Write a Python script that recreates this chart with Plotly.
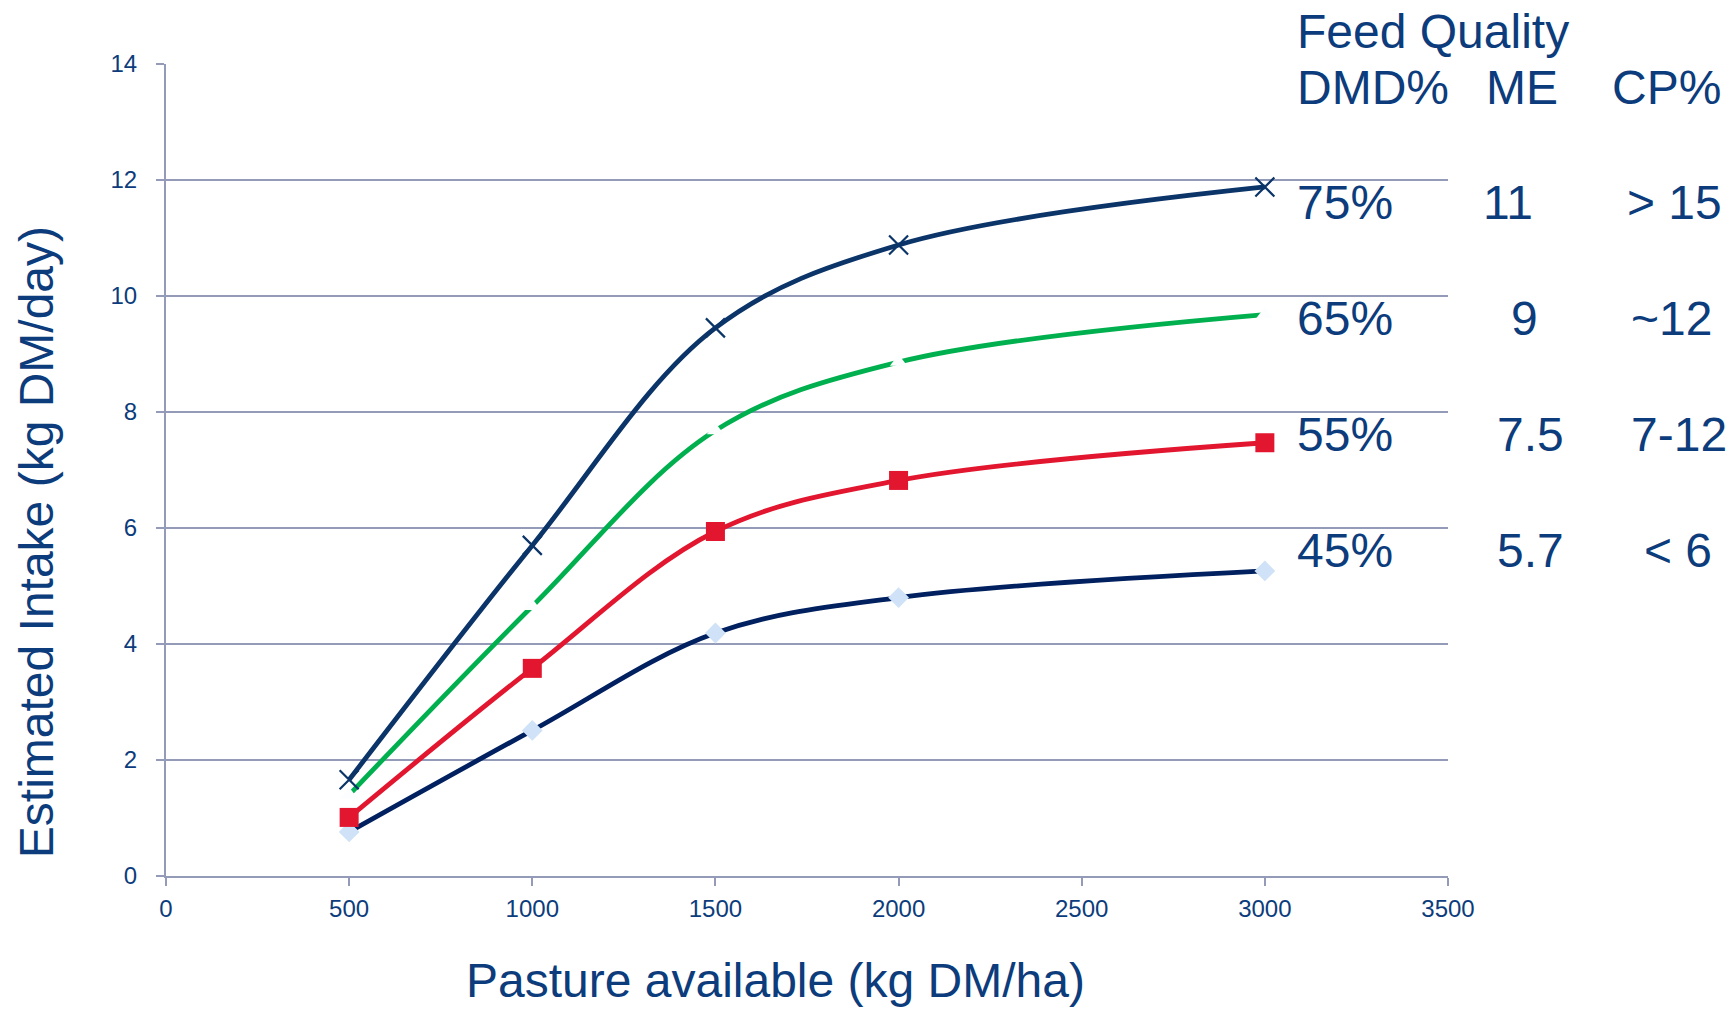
import plotly.graph_objects as go

pasture = [500, 1000, 1500, 2000, 3000]
intake_75 = [1.66, 5.70, 9.45, 10.88, 11.88]
intake_65 = [1.40, 4.65, 7.68, 8.86, 9.68]
intake_55 = [1.01, 3.58, 5.94, 6.82, 7.47]
intake_45 = [0.76, 2.51, 4.19, 4.80, 5.26]

dmd = ["75%", "65%", "55%", "45%"]
me = ["11", "9", "7.5", "5.7"]
cp = ["> 15", "~12", "7-12", "< 6"]
row_y = [11.62, 9.62, 7.62, 5.62]

TXT = "#0c3c7c"
GRID = "#939bb9"
FONT = "Liberation Sans, Arial, sans-serif"

W, H = 1733, 1009
ML, MR, MT, MB = 166, 285, 64, 132.5
PW = W - ML - MR
PH = H - MT - MB


def px(xpix):
    return (xpix - ML) / PW


def py(ypix):
    return (H - MB - ypix) / PH


fig = go.Figure()

series = [
    (intake_45, "#00205f", dict(symbol="diamond", size=16, color="#cfe2f7")),
    (intake_55, "#e2162f", dict(symbol="square", size=19, color="#e2162f")),
    (intake_65, "#00b04f", dict(symbol="triangle-up", size=15, color="#fbfdff")),
    (intake_75, "#0b3469", dict(symbol="x-thin", size=19, color="#0b3469",
                                line=dict(width=2.2, color="#0b3469"))),
]
for ys, col, mk in series:
    fig.add_trace(go.Scatter(
        x=pasture, y=ys, mode="lines+markers",
        line=dict(color=col, width=4.8, shape="spline", smoothing=1.0),
        marker=mk, showlegend=False, cliponaxis=False))

ann = []
ann.append(dict(x=px(1295), y=py(31), text="Feed Quality", xanchor="left"))
ann.append(dict(x=px(1295), y=py(88), text="DMD%", xanchor="left"))
ann.append(dict(x=px(1522), y=py(88), text="ME", xanchor="center"))
ann.append(dict(x=px(1666), y=py(88), text="CP%", xanchor="center"))
me_x = [1508, 1524, 1530, 1530]
cp_x = [1674, 1672, 1679, 1678]
for i in range(4):
    yy = row_y[i] / 14
    ann.append(dict(x=px(1295), y=yy, text=dmd[i], xanchor="left"))
    ann.append(dict(x=px(me_x[i]), y=yy, text=me[i], xanchor="center"))
    ann.append(dict(x=px(cp_x[i]), y=yy, text=cp[i], xanchor="center"))
for a in ann:
    a.update(xref="paper", yref="paper", showarrow=False, yanchor="middle",
             font=dict(family=FONT, size=48, color=TXT))

# axis titles
ann.append(dict(x=px(775), y=py(981), xref="paper", yref="paper",
                text="Pasture available (kg DM/ha)", showarrow=False,
                xanchor="center", yanchor="middle",
                font=dict(family=FONT, size=48, color=TXT)))
ann.append(dict(x=px(36.5), y=py(543), xref="paper", yref="paper",
                text="Estimated Intake (kg DM/day)", showarrow=False,
                textangle=-90, xanchor="center", yanchor="middle",
                font=dict(family=FONT, size=48, color=TXT)))
fig.update_layout(annotations=ann)

fig.update_layout(
    width=W, height=H,
    margin=dict(l=ML, r=MR, t=MT, b=MB),
    paper_bgcolor="white", plot_bgcolor="white",
    font=dict(family=FONT, color=TXT),
    xaxis=dict(range=[0, 3500], dtick=500, tick0=0, showgrid=False,
               showline=True, linecolor=GRID, linewidth=2,
               ticks="outside", ticklen=8, tickcolor=GRID, tickwidth=1.5,
               ticklabelstandoff=2,
               tickfont=dict(size=24, color=TXT, family=FONT),
               zeroline=False),
    yaxis=dict(range=[0, 14], dtick=2, tick0=0, showgrid=True,
               gridcolor=GRID, gridwidth=1.5,
               showline=True, linecolor=GRID, linewidth=2,
               ticks="outside", ticklen=8, tickcolor=GRID, tickwidth=1.5,
               ticklabelstandoff=14,
               tickfont=dict(size=24, color=TXT, family=FONT),
               zeroline=False),
)

fig.write_html("out.html")
